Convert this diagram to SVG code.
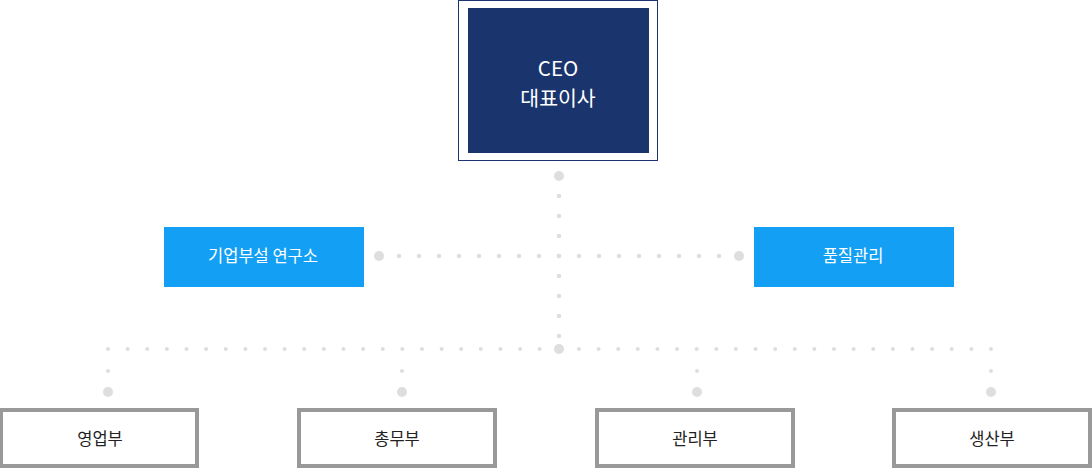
<svg xmlns="http://www.w3.org/2000/svg" width="1092" height="468" viewBox="0 0 1092 468">
<style>
.dots{fill:none;stroke:#dedede;stroke-linecap:round}
.big{fill:#dedede}
.blue{fill:#13a0f4}
.dept{fill:#fff;stroke:#999;stroke-width:4}
.t{font-family:"Noto Sans CJK KR","Noto Sans",sans-serif;text-anchor:middle}
.tw{fill:#fff;font-size:16.5px}
.tb{fill:#222;font-size:16.5px}
.tc{fill:#fff;font-size:20.5px}
</style>
<rect width="1092" height="468" fill="#fff"/>
<g id="connectors">
<line class="dots" x1="559" y1="196" x2="559" y2="337" stroke-width="4.5" stroke-dasharray="0 20"/>
<line class="dots" x1="399" y1="256" x2="720" y2="256" stroke-width="4.5" stroke-dasharray="0 20"/>
<line class="dots" x1="108" y1="349" x2="991.5" y2="349" stroke-width="4" stroke-dasharray="0 19.622"/>
<circle class="big" cx="559" cy="176" r="5"/>
<circle class="big" cx="379" cy="256" r="5"/>
<circle class="big" cx="739" cy="256" r="5"/>
<circle class="big" cx="559" cy="349" r="5"/>
<circle class="big" cx="108" cy="371" r="2"/>
<circle class="big" cx="108" cy="392" r="5"/>
<circle class="big" cx="402" cy="371" r="2"/>
<circle class="big" cx="402" cy="392" r="5"/>
<circle class="big" cx="697" cy="371" r="2"/>
<circle class="big" cx="697" cy="392" r="5"/>
<circle class="big" cx="991" cy="371" r="2"/>
<circle class="big" cx="991" cy="392" r="5"/>
</g>
<g id="ceo">
<rect x="458.5" y="0.5" width="199" height="160" fill="#fff" stroke="#1a356d" stroke-width="1"/>
<rect x="468" y="8" width="181" height="145" fill="#1a356d"/>
<text class="t tc" x="558" y="76">CEO</text>
<text class="t tc" x="558" y="106">대표이사</text>
</g>
<g id="rnd">
<rect class="blue" x="164" y="227" width="200" height="60"/>
<text class="t tw" x="263" y="262">기업부설 연구소</text>
</g>
<g id="qc">
<rect class="blue" x="754" y="227" width="200" height="60"/>
<text class="t tw" x="853" y="262">품질관리</text>
</g>
<g id="sales">
<rect class="dept" x="1" y="410" width="196" height="56"/>
<text class="t tb" x="100" y="445">영업부</text>
</g>
<g id="general">
<rect class="dept" x="299" y="410" width="196" height="56"/>
<text class="t tb" x="397" y="445">총무부</text>
</g>
<g id="admin">
<rect class="dept" x="597" y="410" width="196" height="56"/>
<text class="t tb" x="695" y="445">관리부</text>
</g>
<g id="production">
<rect class="dept" x="894" y="410" width="196" height="56"/>
<text class="t tb" x="992" y="445">생산부</text>
</g>
</svg>
